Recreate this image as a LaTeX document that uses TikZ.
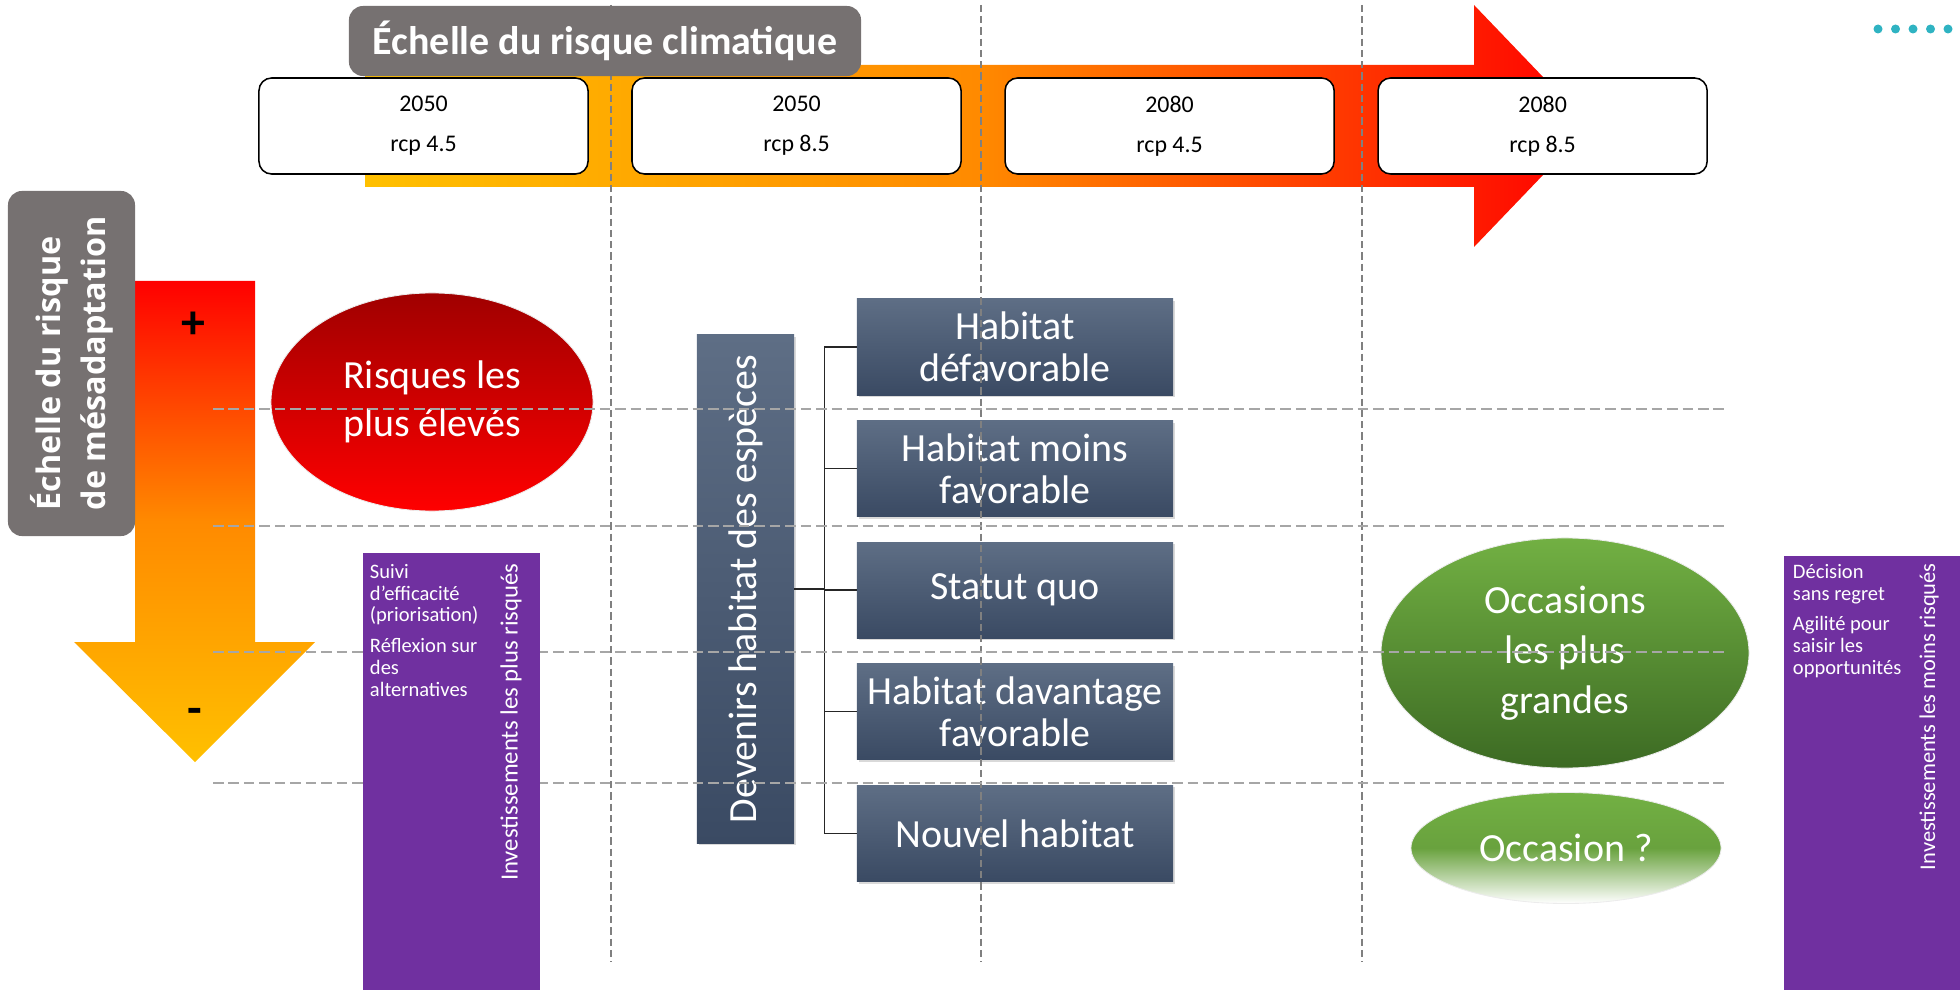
\documentclass[tikz,border=0pt]{standalone}
\usepackage{fontspec}
\setmainfont{Carlito}
\newfontfamily\labelfont{Open Sans}
\usetikzlibrary{positioning,shapes.geometric,shadows}
\definecolor{ash}{HTML}{767171}
\definecolor{plum}{HTML}{7030A0}
\definecolor{amber}{HTML}{FFC000}
\definecolor{tangerine}{HTML}{FF8A00}
\definecolor{scarlet}{HTML}{FF0000}
\definecolor{wine}{HTML}{A00000}
\definecolor{leaf}{HTML}{72B043}
\definecolor{moss}{HTML}{3C6A23}
\definecolor{steeltop}{HTML}{5E6E85}
\definecolor{steelbot}{HTML}{3A4A63}
\definecolor{gridgray}{HTML}{A6A6A6}
\definecolor{dotteal}{HTML}{2FB3C2}
\tikzset{
  yearbox/.style={
    draw=black,
    line width=1.1pt,
    rounded corners=9pt,
    fill=white,
    minimum width=8.225cm,
    minimum height=2.4cm,
    align=center,
    font=\fontsize{17}{28.5}\selectfont
  },
  ashbox/.style={
    fill=ash,
    text=white,
    rounded corners=10pt,
    align=center
  },
  habbox/.style={
    top color=steeltop,
    bottom color=steelbot,
    text=white,
    minimum width=7.9cm,
    minimum height=2.4cm,
    inner sep=2pt,
    align=center,
    font=\fontsize{28.4}{30}\selectfont,
    drop shadow={opacity=0.3,shadow xshift=1.5pt,shadow yshift=-1.5pt}
  },
  oval/.style={
    ellipse,
    inner sep=0pt,
    draw=white!85!gray,
    line width=0.6pt,
    text=white,
    align=center
  },
  purplebox/.style={
    fill=plum,
    inner sep=0pt
  },
  notes/.style={
    text=white,
    align=left,
    inner sep=0pt,
    font=\fontsize{14.6}{15.6}\selectfont
  },
  sidetext/.style={
    text=white,
    rotate=90,
    anchor=east,
    inner sep=0pt
  },
  sign/.style={
    font=\bfseries\fontsize{34}{34}\selectfont,
    inner sep=0pt
  },
  gridline/.style={
    draw=gridgray,
    line width=1.6pt,
    dash pattern=on 7.5pt off 3.5pt
  },
  timeline/.style={
    draw=gray,
    line width=0.9pt,
    dash pattern=on 5pt off 3pt
  },
  tree/.style={
    draw=black!85,
    line width=1pt
  }
}

\begin{document}
\begin{tikzpicture}[x=0.025cm,y=-0.025cm]
  \useasboundingbox (0,0) rectangle (1960,990);

  % the two scale arrows
  \shade[left color=amber, right color=scarlet, middle color=tangerine]
    (365,65) -- (1474,65) -- (1474,5) -- (1590,126) -- (1474,247)
    -- (1474,187) -- (365,187) -- cycle;
  \shade[top color=scarlet, bottom color=amber, middle color=tangerine]
    (135,281) -- (255,281) -- (255,642) -- (315,642) -- (195,762)
    -- (74,642) -- (135,642) -- cycle;

  % outcomes
  \node[oval, top color=wine, bottom color=scarlet,
    minimum width=8.05cm, minimum height=5.45cm,
    font=\fontsize{28.4}{34}\selectfont] (risk) at (432,402)
    {Risques les\\plus élevés};
  \node[oval, top color=leaf, bottom color=moss,
    minimum width=9.2cm, minimum height=5.75cm,
    font=\fontsize{28.4}{35.5}\selectfont] (chance) at (1565,653)
    {Occasions\\les plus\\grandes};
  \node[oval, top color=leaf, bottom color=white, middle color=leaf!92!black,
    minimum width=7.75cm, minimum height=2.775cm,
    font=\fontsize{28.4}{34}\selectfont] (maybe) at (1566,848)
    {Occasion ?};

  % habitat futures
  \node[habbox, rotate=90, minimum width=12.7cm, minimum height=2.425cm]
    (dev) at (745.5,589) {Devenirs habitat des espèces};
  \begin{scope}[node distance=0.625cm]
    \node[habbox] (hab1) at (1015,347) {Habitat\\défavorable};
    \node[habbox, below=of hab1] (hab2) {Habitat moins\\favorable};
    \node[habbox, below=of hab2] (hab3) {Statut quo};
    \node[habbox, below=of hab3] (hab4) {Habitat davantage\\favorable};
    \node[habbox, below=of hab4] (hab5) {Nouvel habitat};
  \end{scope}
  \foreach \i in {1,...,5}
    \draw[tree] (hab\i.west) -- ++(-32,0) |- (dev.south);

  % grid
  \foreach \x in {611,981,1362}
    \draw[timeline] (\x,5) -- (\x,962);
  \foreach \y in {409,526,652,783}
    \draw[gridline] (213,\y) -- (1724,\y);

  % titles
  \node[ashbox, minimum width=12.8cm, minimum height=1.75cm,
    font=\bfseries\fontsize{28.4}{30}\selectfont] (climate) at (605,41)
    {Échelle du risque climatique};
  \node[ashbox, rotate=90, align=left, minimum width=8.625cm, minimum height=3.175cm,
    font=\labelfont\bfseries\fontsize{23}{32}\selectfont] (misfit) at (71.5,363.5)
    {Échelle du risque\\de mésadaptation};

  % scenarios
  \node[yearbox] (y1) at (423.5,126) {2050\\rcp 4.5};
  \node[yearbox, right=1.06cm of y1] (y2) {2050\\rcp 8.5};
  \node[yearbox, right=1.06cm of y2] (y3) {2080\\rcp 4.5};
  \node[yearbox, right=1.06cm of y3] (y4) {2080\\rcp 8.5};

  \node[sign] (plus) at (193,325) {+};
  \node[sign] (minus) at (195,716) {-};

  % investments
  \node[purplebox, minimum width=4.425cm, minimum height=11.05cm] (investL) at (451.5,774) {};
  \node[notes, anchor=north west] (noteL) at ([shift={(7,11)}]investL.north west)
    {Suivi\\d’efficacité\\(priorisation)\\[6pt]Réflexion sur\\des\\alternatives};
  \node[sidetext, font=\fontsize{17.6}{20}\selectfont] (sideL) at (511,563)
    {Investissements les plus risqués};
  \node[purplebox, minimum width=4.5cm, minimum height=11cm] (investR) at (1874,776) {};
  \node[notes, anchor=north west] (noteR) at ([shift={(9,8)}]investR.north west)
    {Décision\\sans regret\\[6pt]Agilité pour\\saisir les\\opportunités};
  \node[sidetext, font=\fontsize{16}{18}\selectfont] (sideR) at (1929,563)
    {Investissements les moins risqués};

  \foreach \i in {0,...,4}
    \fill[dotteal] (1878+17.5*\i,29) circle[radius=3.2pt];
\end{tikzpicture}
\end{document}
